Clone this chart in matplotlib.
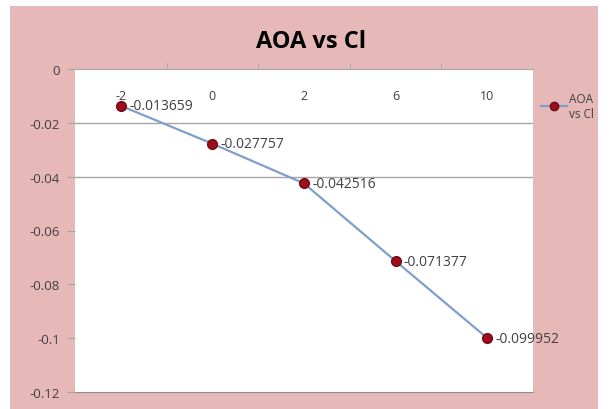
import matplotlib.pyplot as plt
from matplotlib.patches import Rectangle
from matplotlib.lines import Line2D

# datos del grafico
aoa_labels = ['-2', '0', '2', '6', '10']
cl_values = [-0.013659, -0.027757, -0.042516, -0.071377, -0.099952]
point_labels = ['-0.013659', '-0.027757', '-0.042516', '-0.071377', '-0.099952']
y_ticks = [0, -0.02, -0.04, -0.06, -0.08, -0.1, -0.12]
y_tick_labels = ['0', '-0.02', '-0.04', '-0.06', '-0.08', '-0.1', '-0.12']
grid_levels = [-0.02, -0.04]

plt.rcParams['font.family'] = ['Open Sans', 'DejaVu Sans']

pink = '#e6b9b8'
line_col = '#7f9fcb'
mark_col = '#a00d1a'
text_col = '#404040'

fig = plt.figure(figsize=(6.1, 4.1), dpi=100)
fig.patch.set_facecolor('white')
# fondo rosado del area del grafico
fig.patches.append(Rectangle((10 / 610, 0), 588 / 610, 1 - 7 / 410,
                             transform=fig.transFigure, facecolor=pink,
                             edgecolor='none', zorder=-1))

ax = fig.add_axes([75 / 610, 17 / 410, 458 / 610, 323 / 410])
ax.set_facecolor('white')

x = list(range(len(aoa_labels)))
ax.plot(x, cl_values, color=line_col, lw=1.6, marker='o', markersize=7,
        markerfacecolor=mark_col, markeredgecolor='#6e0a12', zorder=3)

for xi, yi, lab in zip(x, cl_values, point_labels):
    ax.annotate(lab, (xi, yi), xytext=(6, 0), textcoords='offset points',
                va='center', ha='left', fontsize=10, color=text_col)

for g in grid_levels:
    ax.axhline(g, color='#a6a6a6', lw=1, zorder=1)

ax.set_xlim(-0.5, len(aoa_labels) - 0.5)
ax.set_ylim(-0.12, 0)
ax.set_yticks(y_ticks)
ax.set_yticklabels(y_tick_labels)

# eje de categorias arriba (cruza en 0)
ax.set_xticks(x)
ax.set_xticklabels(aoa_labels)
ax.set_xticks([i + 0.5 for i in x[:-1]], minor=True)
ax.tick_params(axis='x', which='major', top=True, bottom=False, labeltop=True,
               labelbottom=False, length=0, pad=-24, labelsize=9,
               labelcolor=text_col)
ax.tick_params(axis='x', which='minor', top=True, bottom=False, length=4,
               direction='out', color='#a6a6a6')
ax.tick_params(axis='y', length=6, direction='out', color='#a6a6a6',
               labelsize=9.5, labelcolor=text_col, pad=5)

for s in ['left', 'right']:
    ax.spines[s].set_visible(False)
ax.spines['top'].set_color('#a6a6a6')
ax.spines['bottom'].set_color('#8c8c8c')

fig.text(311 / 610, 1 - 42 / 410, 'AOA vs Cl', ha='center', va='center',
         fontsize=17, fontweight='bold', color='black')

handle = Line2D([], [], color=line_col, lw=1.6, marker='o', markersize=6,
                markerfacecolor=mark_col, markeredgecolor='#6e0a12')
fig.legend([handle], ['AOA\nvs Cl'], loc='upper left',
           bbox_to_anchor=(530 / 610, 1 - 82 / 410), frameon=False,
           fontsize=8.5, handlelength=2.2, handletextpad=0.2,
           labelcolor=text_col)

fig.savefig('out.png', dpi=100, facecolor=fig.get_facecolor())
